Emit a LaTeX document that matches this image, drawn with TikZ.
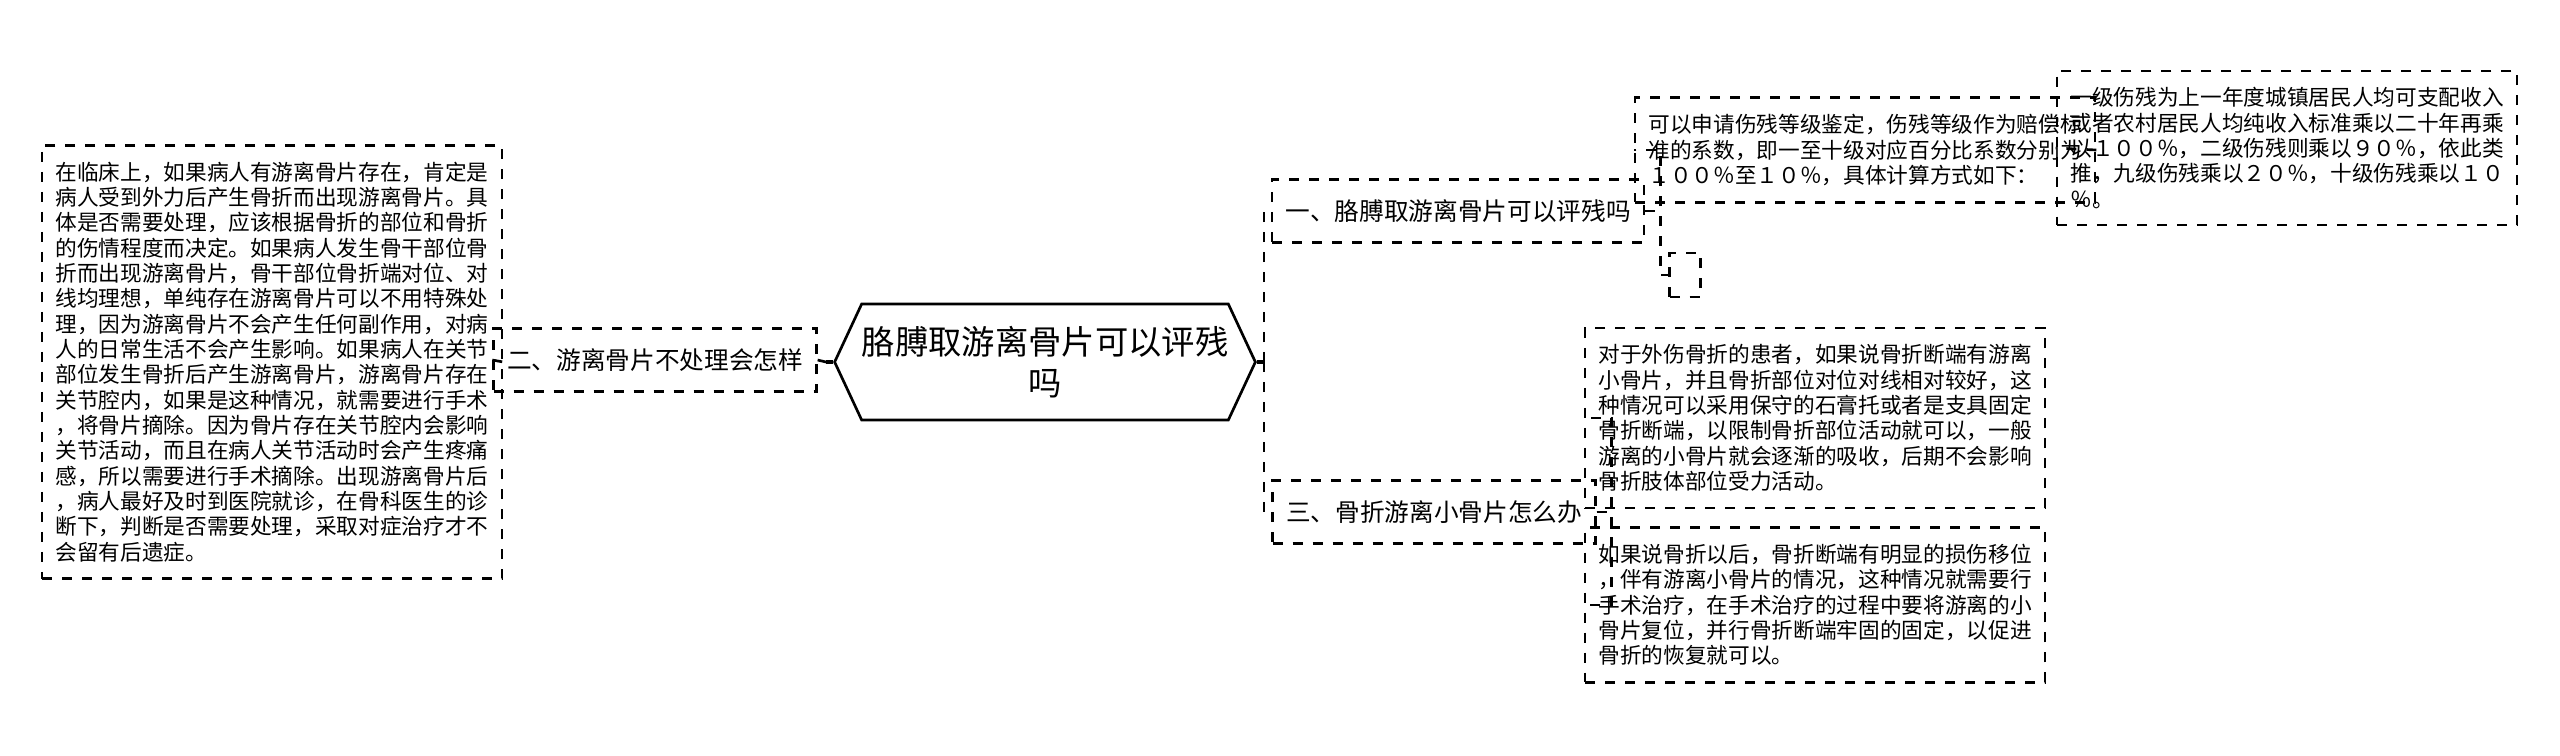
\documentclass[tikz,border=0pt]{standalone}
\usepackage{fontspec}
\setmainfont{Noto Sans CJK SC}
\usetikzlibrary{positioning, shapes.symbols}

\begin{document}
\begin{tikzpicture}[
    x=0.3pt, y=-0.3pt,
    every node/.style={align=left, inner sep=0pt},
    textbox/.style={draw, dashed, thick, font=\fontsize{6.5}{7.6}\selectfont, inner xsep=4pt, inner ysep=5pt},
    branch/.style={draw, dashed, thick, font=\fontsize{7.4}{9}\selectfont, inner xsep=4pt, inner ysep=6pt},
    link/.style={dashed, thick}
]
    \useasboundingbox (0,0) rectangle (2560,755);
    \node (root) [draw, thick, signal, signal to=east and west, signal pointer angle=130, align=center,
        minimum width=398*0.3pt, minimum height=116*0.3pt, font=\fontsize{10}{12.5}\selectfont] at (1045,362) {胳膊取游离骨片可以评残\\吗};

    \node (left) [branch] at (655,360) {二、游离骨片不处理会怎样};
    \node (leftText) [textbox] at (272,362) {在临床上，如果病人有游离骨片存在，肯定是\\病人受到外力后产生骨折而出现游离骨片。具\\体是否需要处理，应该根据骨折的部位和骨折\\的伤情程度而决定。如果病人发生骨干部位骨\\折而出现游离骨片，骨干部位骨折端对位、对\\线均理想，单纯存在游离骨片可以不用特殊处\\理，因为游离骨片不会产生任何副作用，对病\\人的日常生活不会产生影响。如果病人在关节\\部位发生骨折后产生游离骨片，游离骨片存在\\关节腔内，如果是这种情况，就需要进行手术\\，将骨片摘除。因为骨片存在关节腔内会影响\\关节活动，而且在病人关节活动时会产生疼痛\\感，所以需要进行手术摘除。出现游离骨片后\\，病人最好及时到医院就诊，在骨科医生的诊\\断下，判断是否需要处理，采取对症治疗才不\\会留有后遗症。};

    \node (one) [branch] at (1458,211) {一、胳膊取游离骨片可以评残吗};
    \node (oneText) [textbox] at (1865,150) {可以申请伤残等级鉴定，伤残等级作为赔偿标\\准的系数，即一至十级对应百分比系数分别为\\１００％至１０％，具体计算方式如下：};
    \node (oneMore) [textbox] at (2287,148) {一级伤残为上一年度城镇居民人均可支配收入\\或者农村居民人均纯收入标准乘以二十年再乘\\以１００％，二级伤残则乘以９０％，依此类\\推，九级伤残乘以２０％，十级伤残乘以１０\\％。};
    \node (oneEmpty) [draw, dashed, thick, minimum width=31*0.3pt, minimum height=44*0.3pt] at (1685,275) {};

    \node (three) [branch] at (1434,512) {三、骨折游离小骨片怎么办};
    \node (threeA) [textbox] at (1815,418) {对于外伤骨折的患者，如果说骨折断端有游离\\小骨片，并且骨折部位对位对线相对较好，这\\种情况可以采用保守的石膏托或者是支具固定\\骨折断端，以限制骨折部位活动就可以，一般\\游离的小骨片就会逐渐的吸收，后期不会影响\\骨折肢体部位受力活动。};
    \node (threeB) [textbox] at (1815,605) {如果说骨折以后，骨折断端有明显的损伤移位\\，伴有游离小骨片的情况，这种情况就需要行\\手术治疗，在手术治疗的过程中要将游离的小\\骨片复位，并行骨折断端牢固的固定，以促进\\骨折的恢复就可以。};

    \coordinate (rootR) at (1264,362);
    \coordinate (rootL) at (826,362);
    \draw [very thick] (root.east) -- (rootR);
    \draw [very thick] (root.west) -- (rootL);
    \draw [link] (rootR) |- (one.west);
    \draw [link] (rootR) |- (three.west);
    \draw [link] (rootL) -- (left.east);
    \draw [link] (left.west) -- (leftText.east);

    \draw [link] (one.east) -- ++(15,0) |- (oneText.west);
    \draw [link] (one.east) -- ++(15,0) |- (oneEmpty.west);
    \draw [link] (oneText.east) -- (oneMore.west);

    \draw [link] (three.east) -- ++(15,0) |- (threeA.west);
    \draw [link] (three.east) -- ++(15,0) |- (threeB.west);
\end{tikzpicture}
\end{document}
